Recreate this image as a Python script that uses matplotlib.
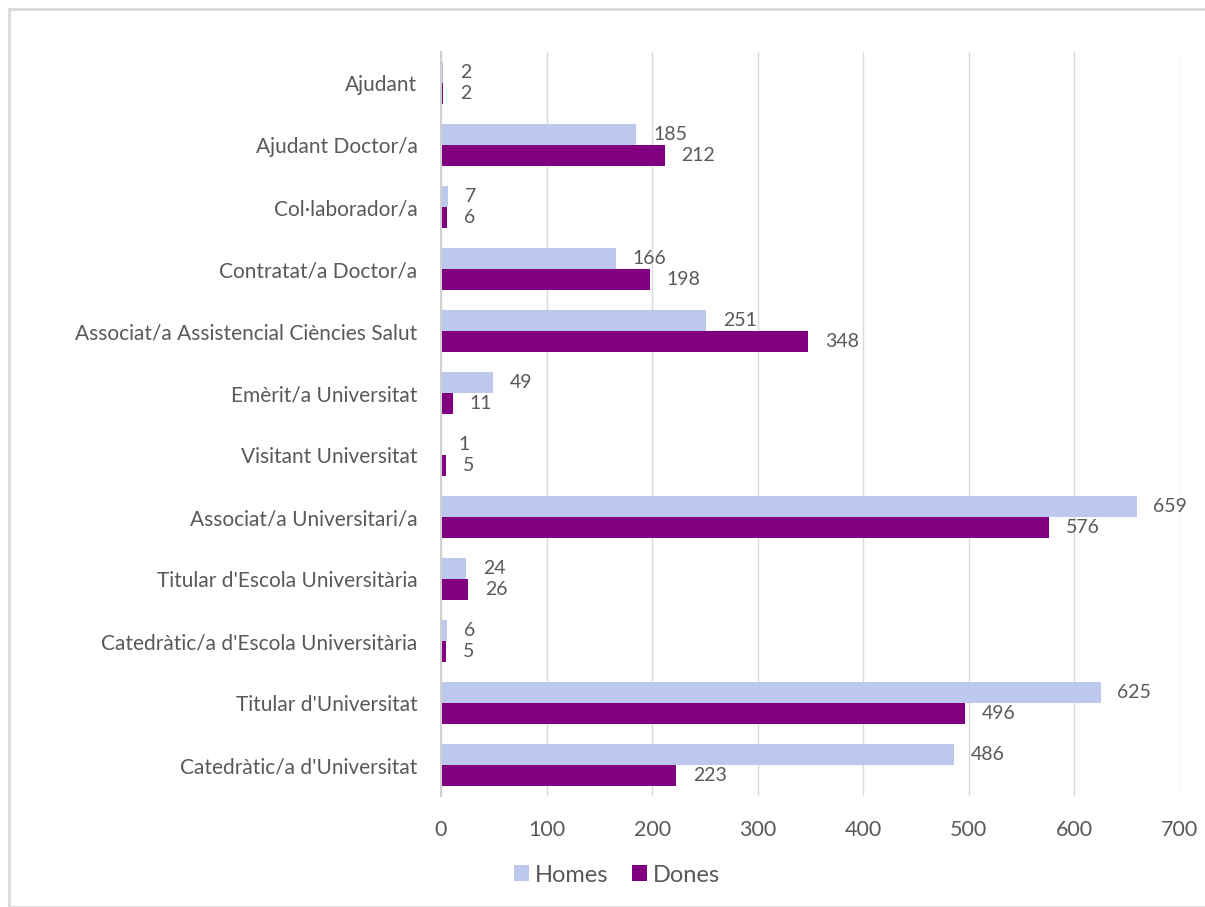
import matplotlib
matplotlib.use("Agg")
import matplotlib.pyplot as plt
from matplotlib.patches import Rectangle
import numpy as np

categories = ["Ajudant", "Ajudant Doctor/a", "Col·laborador/a", "Contratat/a Doctor/a",
              "Associat/a Assistencial Ciències Salut", "Emèrit/a Universitat",
              "Visitant Universitat", "Associat/a Universitari/a",
              "Titular d'Escola Universitària", "Catedràtic/a d'Escola Universitària",
              "Titular d'Universitat", "Catedràtic/a d'Universitat"]
homes = [2, 185, 7, 166, 251, 49, 1, 659, 24, 6, 625, 486]
dones = [2, 212, 6, 198, 348, 11, 5, 576, 26, 5, 496, 223]
xticks = [0, 100, 200, 300, 400, 500, 600, 700]

c_homes = "#BCC8EC"
c_dones = "#800080"
txt = "#595959"

plt.rcParams['font.family'] = ['Lato', 'DejaVu Sans']

fig = plt.figure(figsize=(12.05, 9.07), dpi=100)
W, H = 1205, 907
ax = fig.add_axes([441 / W, 1 - 796 / H, (1180 - 441) / W, (796 - 52) / H])

y = np.arange(len(categories))
bh = 0.335
ax.barh(y - bh / 2, homes, height=bh, color=c_homes, label="Homes", zorder=3)
ax.barh(y + bh / 2, dones, height=bh, color=c_dones, label="Dones", zorder=3)

for yi, v in zip(y, homes):
    ax.annotate(str(v), (v, yi - bh / 2), xytext=(12, 0), textcoords="offset points",
                va="center", ha="left", fontsize=14, color=txt)
for yi, v in zip(y, dones):
    ax.annotate(str(v), (v, yi + bh / 2), xytext=(12, 0), textcoords="offset points",
                va="center", ha="left", fontsize=14, color=txt)

ax.set_ylim(len(categories) - 0.5, -0.5)
ax.set_xlim(0, 700)
ax.set_xticks(xticks)
ax.set_xticklabels([str(t) for t in xticks], fontsize=15.5, color=txt)
ax.set_yticks(y)
ax.set_yticklabels(categories, fontsize=15, color=txt)
ax.tick_params(axis="both", length=0)
ax.tick_params(axis="x", pad=17)
ax.tick_params(axis="y", pad=17)
ax.grid(axis="x", color="#D9D9D9", linewidth=1, zorder=0)
for s in ["top", "right", "bottom"]:
    ax.spines[s].set_visible(False)
ax.spines["left"].set_color("#D0D0D0")
ax.spines["left"].set_linewidth(1.5)
ax.spines["left"].set_zorder(4)

leg = fig.legend(loc="center", bbox_to_anchor=(617 / W, 1 - 875 / H), ncol=2, frameon=False,
                 fontsize=17, handlelength=0.65, handleheight=0.65, handletextpad=0.25,
                 columnspacing=1.0)
for t in leg.get_texts():
    t.set_color(txt)

fig.patches.append(Rectangle((9 / W, 0), (W + 10) / W, 1 - 9 / H, transform=fig.transFigure,
                             fill=False, edgecolor="#D9D9D9", linewidth=2))

fig.savefig("out.png", dpi=100)
